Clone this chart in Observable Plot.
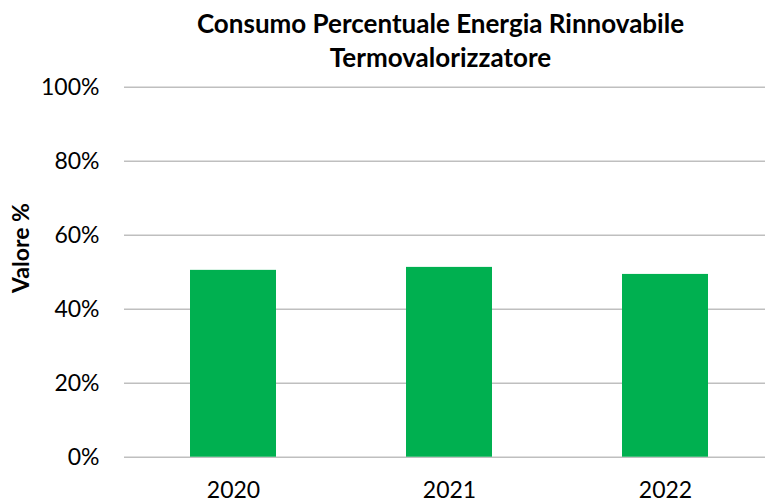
<!DOCTYPE html>
<html>
<head>
<meta charset="utf-8">
<script src="https://cdn.jsdelivr.net/npm/d3@7"></script>
<script src="https://cdn.jsdelivr.net/npm/@observablehq/plot@0.6"></script>
<style>
  html, body { margin: 0; padding: 0; background: #fff; overflow: hidden; }
  #wrap { position: relative; width: 765px; height: 502px; font-family: Lato, "Open Sans", sans-serif; }
  .title { position: absolute; left: 0; width: 881px; text-align: center; font-weight: bold; font-size: 26px; color: #000; line-height: 1; white-space: nowrap; }
  #ylab { position: absolute; left: 20px; top: 248px; transform: translate(-50%, -50%) rotate(-90deg); font-weight: bold; font-size: 23px; white-space: nowrap; color: #000; }
  #chart { position: absolute; left: 0; top: 0; }
</style>
</head>
<body>
<div id="wrap">
  <div id="chart"></div>
  <div class="title" style="top:10px">Consumo Percentuale Energia Rinnovabile</div>
  <div class="title" style="top:44px">Termovalorizzatore</div>
  <div id="ylab">Valore %</div>
</div>
<script>
const years = ["2020", "2021", "2022"];
const values = [50.5, 51.3, 49.4];
const yTicks = [0, 20, 40, 60, 80, 100];

const data = years.map((y, i) => ({year: y, value: values[i]}));

const chart = Plot.plot({
  width: 765,
  height: 502,
  marginTop: 86.7,
  marginBottom: 45.3,
  marginLeft: 124,
  marginRight: 0,
  style: {fontFamily: "Lato, 'Open Sans', sans-serif", fontSize: "23px", color: "#000", background: "transparent", overflow: "hidden"},
  x: {domain: years, range: [124, 774], paddingInner: 0.6, paddingOuter: 0.3},
  y: {domain: [0, 100]},
  marks: [
    Plot.ruleY(yTicks, {stroke: "#bfbfbf", strokeWidth: 1.5}),
    Plot.barY(data, {x: "year", y: "value", fill: "#00B050"}),
    Plot.axisY(yTicks, {tickSize: 0, tickPadding: 25, tickFormat: d => d + "%", label: null, fontSize: 23}),
    Plot.axisX({tickSize: 0, tickPadding: 24, label: null, fontSize: 23})
  ]
});
document.getElementById("chart").appendChild(chart);
</script>
</body>
</html>
